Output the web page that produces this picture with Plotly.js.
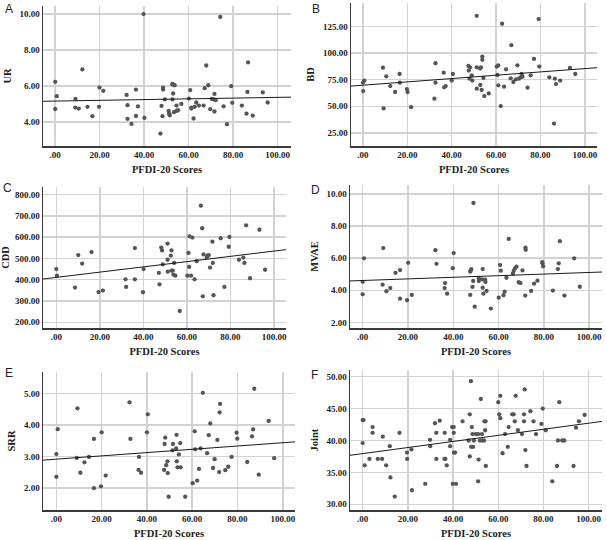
<!DOCTYPE html>
<html><head><meta charset="utf-8">
<script src="https://cdn.plot.ly/plotly-3.0.1.min.js"></script>
<style>html,body{margin:0;padding:0;background:#fff}#chart{width:607px;height:540px}</style>
</head><body><div id="chart"></div>
<script>
// ---------- data ----------
const xTitle = "PFDI-20 Scores";
const xTickVals = [0, 20, 40, 60, 80, 100];
const panelLetters = ["A", "B", "C", "D", "E", "F"];
const yTitles = ["UR", "BD", "CDD", "MVAE", "SRR", "Joint"];

const urX = [0,0,0.7,9.1,9,10.6,12.2,14.5,16.7,19.7,
  19.9,21.6,32.1,32.5,32.5,34.3,36.3,36.3,37.2,39.7,
  40.1,47.3,47.8,48.2,48.5,48.5,49.3,51,51.2,51.5,
  52.7,52.7,53,52.7,53.4,53.7,54.5,54.5,55.2,56.7,
  60.1,60.7,61.2,61.2,62.2,62.7,63.4,64.6,66.7,67.2,
  67.9,68.8,69.7,70.4,71.3,71.6,71.6,72.1,74.2,75.7,
  77.2,79.1,79.6,83.9,86,86.4,86.7,88.8,93.3,95.5];
const urY = [6.23,4.72,5.43,5.28,4.8,4.74,6.92,4.84,4.32,4.84,
  5.91,5.73,5.5,4.93,4.17,3.89,5.8,4.33,4.86,10.0,
  4.22,3.35,4.89,4.32,5.9,5.8,5.25,4.61,4.46,4.37,
  6.12,6.08,5.58,5.25,4.54,6.04,4.91,4.61,4.65,5.0,
  5.3,5.77,4.8,4.74,4.19,4.84,5.08,4.91,4.91,5.88,
  7.14,6.04,4.71,5.28,5.25,5.56,4.58,5.21,9.84,4.87,
  3.87,5.99,5.06,4.91,4.46,5.67,7.31,4.35,5.64,5.08];

const bdX = [0,0.1,0.6,9,9.3,10.5,12.3,14.5,16.5,16.6,
  19.8,20.1,21.7,32.2,32.7,32.7,36.4,36.6,37.3,40,
  40.5,47.5,47.7,48,48.3,49,49.3,51.3,51.3,51.3,
  52.8,52.9,53.2,53.5,53.8,53.8,54.3,54.7,56.7,60.3,
  60.6,61,61,62.1,62.7,63.6,64.5,66.6,66.9,67.8,
  69,69.6,70.3,71.1,71.5,71.9,74.2,75.6,77.1,79.2,
  79.5,84,86.1,86.5,87,88.9,93.3,95.7];
const bdY = [72.2,64.3,74.1,86.3,48,78.1,69,63.4,80.3,72.2,
  66.2,63.4,49.2,57.1,90.4,72.2,81.6,67.8,69,74.1,
  80.3,87.9,83.5,75.9,86.6,79.1,74.1,135,86.6,66.5,
  85.4,70,86.6,65.3,96.7,93.6,76.6,59.6,62.1,87.3,
  79.4,88.5,69.7,50.2,127.5,68.4,84.7,76.3,107.4,72.8,
  75.3,88.5,75.9,77.2,80.3,77.8,67.5,79.1,94.5,131.9,
  87.3,77.2,33.8,75.9,70.9,74.1,86,80.3];

const cddX = [0,0.3,8.6,10.1,11.9,16.2,19.4,21.4,31.8,32.1,
  36.1,36.1,39.8,40.1,47.1,47.4,48.2,48.6,48.9,51.1,
  51.1,51.2,52.6,52.9,52.9,53.5,53.8,54.1,54.7,56.7,
  60.2,60.7,61,61.2,61.9,62.5,63.5,64.5,66.4,67,
  67.3,67.6,69.1,69.4,70,70.6,71.7,71.9,72.2,75.5,
  77.2,79.2,79.5,83.9,85.9,86.4,87.2,89,93.3,95.9];
const cddY = [450,419,363,516,476,530,342,349,402,366,
  549,402,341,450,432,378,551,538,472,570,
  494,438,513,538,443,443,424,479,419,253,
  419,526,460,604,419,598,402,487,748,642,
  322,519,505,513,515,457,579,479,327,595,
  366,555,601,494,504,479,656,407,635,447];

const mvaeX = [0,0,0.6,9.1,8.8,10.5,12.2,14.5,16.5,16.5,
  19.6,20.1,21.7,32.1,32.6,36.4,36.2,37.3,40.2,39.8,
  48.9,47.7,48,53,48.8,48.5,47.5,49.5,51.3,51.3,
  52.8,54.1,54.2,53,54.7,53.3,56.6,60.1,60.7,61,
  62.2,62.7,63.5,64.5,66.3,66.7,67.3,67.9,68.9,69.7,
  70.6,71.8,71.9,72,74.4,75.7,77.2,79.3,79.4,79.7,
  84,86.2,86.6,87.1,89.1,93.4,95.9,47.5];
const mvaeY = [4.53,3.75,5.99,6.63,4.35,3.94,4.14,5.09,5.26,3.48,
  3.38,5.71,3.71,6.5,5.65,4.45,4.14,3.79,6.32,5.38,
  9.44,5.24,5.32,5.32,4.58,4.21,3.71,2.98,4.75,4.58,
  4.68,4.66,4.52,4.16,3.96,3.79,2.86,3.54,5.57,5.22,
  3.69,3.91,4.78,7.2,5.03,5.2,5.37,5.47,4.5,4.45,
  5.24,3.67,6.65,6.52,3.96,4.41,4.6,5.76,5.68,5.49,
  3.98,5.32,5.68,7.06,3.67,5.99,4.22,5.16];

const srrX = [0,0,0.6,9.3,9,10.6,12.4,14.4,16.6,16.6,
  19.7,20,21.8,32.3,32.7,36.5,36.3,37.4,40,40.4,
  48.1,47.8,53.1,51.5,54.7,51.3,52.9,54.1,49.1,53.2,
  48.5,47.6,49.2,53.5,54.9,49.6,56.9,60.2,62.2,63,
  61.1,61.3,63.7,64.7,66.6,67.3,68,69.9,69.2,71.1,
  71.9,72.1,72.3,74.6,75.9,77.4,79.6,79.9,84.3,86.4,
  86.9,87.4,89.4,93.8,96.2];
const srrY = [3.08,2.36,3.87,4.53,2.96,2.49,2.82,2.99,3.56,2.0,
  2.06,3.77,2.4,4.72,3.56,2.99,2.58,2.49,3.77,4.34,
  3.6,3.4,3.69,3.4,3.43,3.2,3.26,3.07,2.85,2.85,
  2.73,2.58,2.48,2.66,2.66,1.73,1.73,2.16,2.24,2.61,
  3.8,3.23,3.26,5.02,3.11,3.68,4.05,2.92,2.64,3.53,
  2.51,4.4,4.67,2.57,2.68,2.99,3.76,3.57,2.83,3.64,
  3.86,5.15,2.43,4.13,2.95];

const jointX = [0,0.4,0,0.9,3,4.4,4.4,6.7,8.6,8.9,
  10.4,12,12.3,14.2,16.3,19.6,19.7,21.6,21.8,27.7,
  29.8,29.9,32,32.6,32.6,34.1,36.2,36.6,36.3,37.2,
  38.7,38.7,39.6,40.3,40.3,40.4,40.9,39.9,41.3,44.2,
  47.9,47.4,46.9,47.4,48.3,48,48.9,49.2,48.6,50.1,
  51.1,51.9,52.8,53.7,52.8,51.3,51.1,52.3,53.9,54.4,
  54.2,54.5,60,60.9,60.4,60.9,61.9,63,64.2,64.6,
  66.2,66.8,67.3,67.7,68.7,70.5,71.4,71.7,71.4,72,
  72.5,74.2,75.6,76.7,79.1,79.7,81,83.9,86,86.4,
  87,88.3,89.2,93.3,94.4,95.7,98.2];
const jointY = [43.2,43.2,39.6,36.1,37.1,42.1,41.2,37.1,37.1,40.6,
  36.1,39.1,34.2,31.2,41.2,38.1,37.1,38.6,32.2,33.2,
  40.1,39.1,42.7,41.2,37.1,43.1,37.1,37.1,41.2,36.1,
  40.1,39.1,42.1,42.1,41.2,38.1,38.1,33.2,33.2,43,
  49.3,44.1,40,37.5,42.1,39,39,40,41,41,
  41,40,40,40,41,37,33.6,46.5,43,43,
  41.6,36,46,47,44.1,43.5,38,41,39,42.1,
  44.1,44.1,43,47,41.6,41,44.1,48,43,38.5,
  36,44.6,43,41,42.6,45,41.6,33.6,36,40,
  46,40,40,36,42,43,44];

// fitted regression lines: [intercept, slope]
const urFit = [5.16, 0.00206];
const bdFit = [69.8, 0.156];
const cddFit = [411, 1.237];
const mvaeFit = [4.61, 0.005];
const srrFit = [2.92, 0.0052];
const jointFit = [37.94, 0.0477];

const urTicks = [4, 6, 8, 10];
const bdTicks = [25, 50, 75, 100, 125];
const cddTicks = [200, 300, 400, 500, 600, 700, 800];
const mvaeTicks = [2, 4, 6, 8, 10];
const srrTicks = [2, 3, 4, 5];
const jointTicks = [30, 35, 40, 45, 50];

// ---------- layout helpers ----------
const W = 607, H = 540;
const fmt = v => v === 0 ? ".00" : v.toFixed(2);
const series = [
  {x: urX, y: urY, fit: urFit, ticks: urTicks},
  {x: bdX, y: bdY, fit: bdFit, ticks: bdTicks},
  {x: cddX, y: cddY, fit: cddFit, ticks: cddTicks},
  {x: mvaeX, y: mvaeY, fit: mvaeFit, ticks: mvaeTicks},
  {x: srrX, y: srrY, fit: srrFit, ticks: srrTicks},
  {x: jointX, y: jointY, fit: jointFit, ticks: jointTicks}
];
const boxes = [
  {b: [43, 291, 6, 146],   xr: [-5.5, 106],  yr: [2.66, 10.45], L: [3, 9]},
  {b: [351, 597, 3, 146],  xr: [-5.4, 105.5], yr: [12.7, 147],  L: [310, 9]},
  {b: [43, 286, 187, 328], xr: [-6.1, 105.5], yr: [173, 836],   L: [1, 188]},
  {b: [350, 602, 185, 328], xr: [-5.6, 105.7], yr: [1.65, 10.56], L: [309, 190]},
  {b: [43, 295, 372, 510], xr: [-5.9, 105.4], yr: [1.31, 5.68],  L: [3, 373]},
  {b: [350, 602, 370, 510], xr: [-5.6, 105.9], yr: [29.1, 51.05], L: [309, 375]}
];

const tickFont = {family: "Liberation Serif", size: 9, color: "#222", weight: "bold"};
const titleFont = {family: "Liberation Serif", size: 10.5, color: "#222", weight: "bold"};

const traces = [];
const layout = {
  width: W, height: H,
  margin: {l: 0, r: 0, t: 0, b: 0},
  paper_bgcolor: "#fff", plot_bgcolor: "#fff",
  showlegend: false,
  annotations: []
};

series.forEach((s, i) => {
  const n = i + 1;
  const bx = boxes[i];
  const xa = "x" + (n === 1 ? "" : n), ya = "y" + (n === 1 ? "" : n);
  traces.push({
    type: "scatter", mode: "markers", x: s.x, y: s.y, xaxis: xa, yaxis: ya,
    marker: {size: 4.3, color: "#555555", line: {width: 0}},
    hoverinfo: "x+y"
  });
  const lx = bx.xr;
  traces.push({
    type: "scatter", mode: "lines", x: lx, y: lx.map(v => s.fit[0] + s.fit[1] * v),
    xaxis: xa, yaxis: ya, line: {color: "#1a1a1a", width: 1}, hoverinfo: "skip"
  });
  const common = {
    showgrid: true, gridcolor: "#d2d2d2", gridwidth: 1.5, zeroline: false,
    showline: true, linecolor: "#3a3a3a", linewidth: 1.5, ticks: "",
    tickfont: tickFont, fixedrange: true
  };
  layout["xaxis" + (n === 1 ? "" : n)] = Object.assign({}, common, {
    domain: [bx.b[0] / W, bx.b[1] / W], anchor: ya, range: bx.xr,
    tickmode: "array", tickvals: xTickVals, ticktext: xTickVals.map(fmt),
    title: {text: xTitle, font: titleFont, standoff: 6}
  });
  layout["yaxis" + (n === 1 ? "" : n)] = Object.assign({}, common, {
    domain: [1 - bx.b[3] / H, 1 - bx.b[2] / H], anchor: xa, range: bx.yr,
    tickmode: "array", tickvals: s.ticks, ticktext: s.ticks.map(fmt),
    title: {text: yTitles[i], font: titleFont, standoff: 6}
  });
  layout.annotations.push({
    text: panelLetters[i], xref: "paper", yref: "paper",
    x: bx.L[0] / W, y: 1 - bx.L[1] / H, xanchor: "left", yanchor: "middle",
    showarrow: false, font: {family: "Liberation Sans", size: 12, color: "#222"}
  });
});

Plotly.newPlot("chart", traces, layout, {displayModeBar: false, staticPlot: true});
</script>
</body></html>
